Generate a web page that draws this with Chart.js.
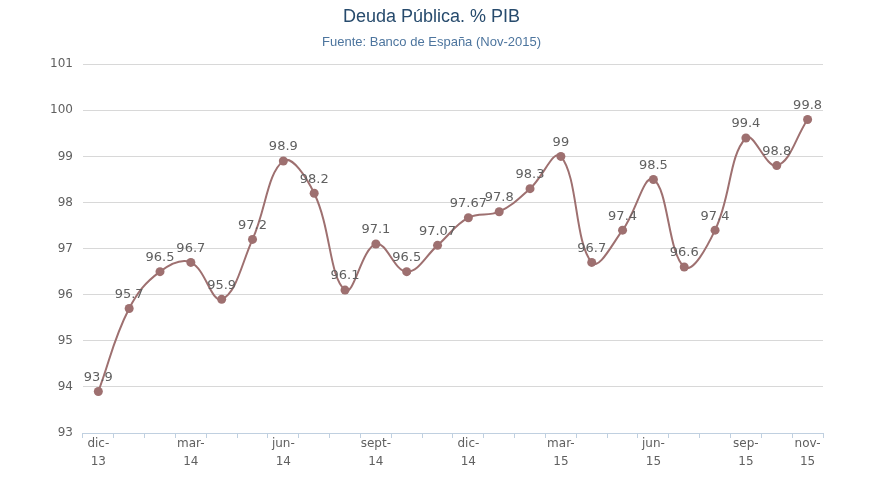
<!DOCTYPE html>
<html>
<head>
<meta charset="utf-8">
<script src="https://cdn.jsdelivr.net/npm/chart.js@4/dist/chart.umd.min.js"></script>
<style>
  html, body { margin: 0; padding: 0; background: #fff; }
  #wrap { width: 879px; height: 494px; }
</style>
</head>
<body>
<div id="wrap"><canvas id="deuda"></canvas></div>
<script>
// ---------------- DATA ----------------
const months = [
    "dic-13", "ene-14", "feb-14", "mar-14", "abr-14", "may-14",
    "jun-14", "jul-14", "ago-14", "sept-14", "oct-14", "nov-14",
    "dic-14", "ene-15", "feb-15", "mar-15", "abr-15", "may-15",
    "jun-15", "jul-15", "ago-15", "sep-15", "oct-15", "nov-15"
];
const deuda = [
    93.9, 95.7, 96.5, 96.7, 95.9, 97.2,
    98.9, 98.2, 96.1, 97.1, 96.5, 97.07,
    97.67, 97.8, 98.3, 99, 96.7, 97.4,
    98.5, 96.6, 97.4, 99.4, 98.8, 99.8
];
const shownTicks = ["dic-13", "mar-14", "jun-14", "sept-14", "dic-14", "mar-15", "jun-15", "sep-15", "nov-15"];
const yTicks = [93, 94, 95, 96, 97, 98, 99, 100, 101];

const lineColor = "#9e7070";

// ---------------- DATA LABELS ----------------
const pointLabels = {
    id: "pointLabels",
    afterDatasetsDraw(chart) {
        const ctx = chart.ctx;
        const meta = chart.getDatasetMeta(0);
        ctx.save();
        ctx.font = "13px 'DejaVu Sans', sans-serif";
        ctx.fillStyle = "#606060";
        ctx.textAlign = "center";
        ctx.textBaseline = "middle";
        meta.data.forEach((pt, i) => {
            ctx.fillText(String(deuda[i]), pt.x, pt.y - 14);
        });
        ctx.restore();
    }
};

new Chart(document.getElementById("deuda"), {
    type: "line",
    data: {
        labels: months,
        datasets: [{
            label: "Deuda",
            data: deuda,
            borderColor: lineColor,
            backgroundColor: lineColor,
            borderWidth: 2,
            tension: 0.4,
            pointRadius: 4.5,
            pointHoverRadius: 5,
            pointBackgroundColor: lineColor,
            pointBorderWidth: 0
        }]
    },
    options: {
        responsive: true,
        maintainAspectRatio: false,
        animation: false,
        layout: { padding: { left: 40, right: 56, top: 4, bottom: 26 } },
        plugins: {
            legend: { display: false },
            tooltip: { enabled: false },
            title: {
                display: true,
                text: "Deuda Pública. % PIB",
                color: "#274b6d",
                font: { family: "'Liberation Sans', Arial, sans-serif", size: 18, weight: "normal" },
                padding: { top: 2, bottom: 4 }
            },
            subtitle: {
                display: true,
                text: "Fuente: Banco de España (Nov-2015)",
                color: "#4d759e",
                font: { family: "'Liberation Sans', Arial, sans-serif", size: 13, weight: "normal" },
                padding: { top: 3, bottom: 14 }
            }
        },
        scales: {
            x: {
                offset: true,
                grid: {
                    offset: true,
                    drawOnChartArea: false,
                    drawTicks: true,
                    tickLength: 5,
                    color: "#c0d0e0"
                },
                border: { color: "#c0d0e0", width: 1 },
                ticks: {
                    autoSkip: false,
                    maxRotation: 0,
                    padding: -3,
                    color: "#606060",
                    font: { family: "'DejaVu Sans', sans-serif", size: 12, lineHeight: 1.5 },
                    callback(value, index) {
                        const m = months[index];
                        if (!shownTicks.includes(m)) return "";
                        const parts = m.split("-");
                        return [parts[0] + "-", parts[1]];
                    }
                }
            },
            y: {
                min: yTicks[0],
                max: yTicks[yTicks.length - 1],
                afterBuildTicks(axis) {
                    axis.ticks = yTicks.map(v => ({ value: v }));
                },
                grid: { color: "#d8d8d8", drawTicks: false },
                border: { display: false },
                ticks: {
                    padding: 10,
                    color: "#606060",
                    font: { family: "'DejaVu Sans', sans-serif", size: 12 }
                }
            }
        }
    },
    plugins: [pointLabels]
});
</script>
</body>
</html>
